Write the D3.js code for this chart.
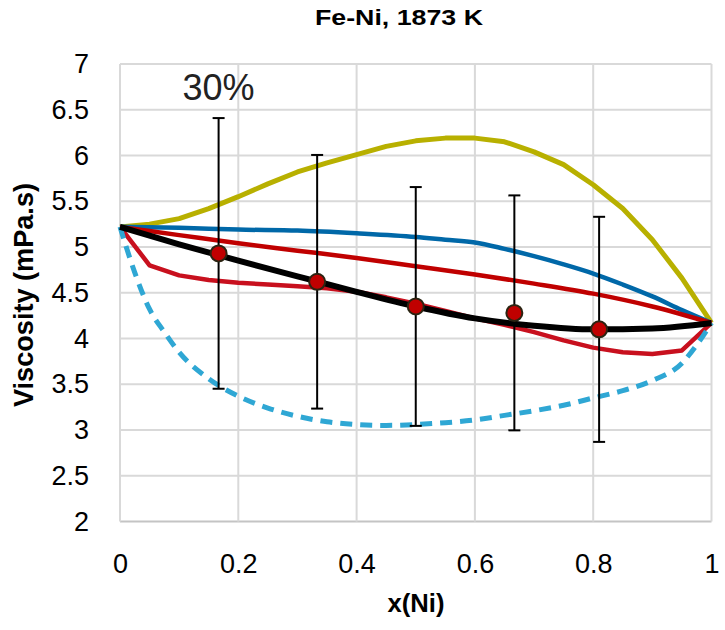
<!DOCTYPE html>
<html><head><meta charset="utf-8">
<script src="https://cdn.jsdelivr.net/npm/d3@7"></script>
<style>body{margin:0;background:#fff}svg{display:block}</style>
</head><body>
<script>
const xTicks = [0, 0.2, 0.4, 0.6, 0.8, 1];
const yTicks = [2, 2.5, 3, 3.5, 4, 4.5, 5, 5.5, 6, 6.5, 7];
const xYellow = [0,0.05,0.1,0.15,0.2,0.25,0.3,0.35,0.4,0.45,0.5,0.55,0.6,0.65,0.7,0.75,0.8,0.85,0.9,0.95,1];
const yYellow = [5.22,5.25,5.31,5.42,5.55,5.69,5.82,5.92,6.01,6.10,6.16,6.19,6.19,6.15,6.04,5.90,5.68,5.42,5.08,4.66,4.17];
const xBlue = [0,0.1,0.2,0.3,0.4,0.5,0.55,0.6,0.65,0.7,0.75,0.8,0.85,0.9,0.95,1];
const yBlue = [5.22,5.21,5.19,5.18,5.15,5.11,5.08,5.05,4.98,4.90,4.81,4.71,4.59,4.46,4.31,4.17];
const xRed1 = [0,0.1,0.2,0.3,0.4,0.5,0.6,0.7,0.8,0.9,1];
const yRed1 = [5.22,5.13,5.04,4.96,4.88,4.79,4.70,4.60,4.49,4.35,4.17];
const xRed2 = [0,0.05,0.1,0.15,0.2,0.25,0.3,0.35,0.4,0.45,0.5,0.55,0.6,0.65,0.7,0.75,0.8,0.85,0.9,0.95,1];
const yRed2 = [5.22,4.80,4.69,4.64,4.61,4.59,4.57,4.55,4.51,4.45,4.38,4.30,4.22,4.15,4.07,3.98,3.90,3.85,3.83,3.87,4.17];
const xBlack = [0,0.1,0.2,0.3,0.4,0.5,0.6,0.7,0.8,0.9,1];
const yBlack = [5.22,5.03,4.85,4.68,4.51,4.35,4.22,4.14,4.10,4.11,4.17];
const xCyan = [0,0.025,0.05,0.075,0.1,0.15,0.2,0.25,0.3,0.35,0.4,0.45,0.5,0.55,0.6,0.65,0.7,0.75,0.8,0.85,0.9,0.95,0.975,1];
const yCyan = [5.22,4.72,4.32,4.07,3.85,3.56,3.37,3.24,3.15,3.09,3.06,3.05,3.06,3.08,3.11,3.16,3.21,3.27,3.35,3.43,3.54,3.73,3.93,4.17];
const xExp = [0.1667,0.3333,0.5,0.6667,0.81];
const yExp = [4.93,4.62,4.35,4.28,4.10];
const errFrac = 0.30;

const W = 725, H = 630;
const svg = d3.select("body").append("svg").attr("width", W).attr("height", H);
const x = d3.scaleLinear().domain([0,1]).range([120, 711.5]);
const y = d3.scaleLinear().domain([2,7]).range([521.5, 64]);
const font = "'Liberation Sans', Arial, sans-serif";

// grid
svg.append("g").selectAll("line").data(yTicks).join("line")
  .attr("x1", x(0)).attr("x2", x(1)).attr("y1", d=>y(d)).attr("y2", d=>y(d))
  .attr("stroke", d => d===2 ? "#c4c4c4" : "#d9d9d9").attr("stroke-width", 2);
svg.append("g").selectAll("line").data(xTicks).join("line")
  .attr("x1", d=>x(d)).attr("x2", d=>x(d)).attr("y1", y(7)).attr("y2", y(2))
  .attr("stroke", "#d9d9d9").attr("stroke-width", 2);

// axes (tick labels via d3 axes)
const yAxis = svg.append("g").attr("transform", `translate(${x(0)},0)`)
  .call(d3.axisLeft(y).tickValues(yTicks).tickSize(0).tickPadding(31).tickFormat(d3.format("")));
const xAxis = svg.append("g").attr("transform", `translate(0,${y(2)})`)
  .call(d3.axisBottom(x).tickValues(xTicks).tickSize(0).tickPadding(32).tickFormat(d3.format("")));
[yAxis, xAxis].forEach(a => {
  a.select(".domain").remove();
  a.selectAll("text").attr("font-family", font).attr("font-size", 27).attr("fill", "#000");
});

const line = (xs, ys, curve) => d3.line().curve(curve || d3.curveLinear)
  .x((d,i)=>x(xs[i])).y((d,i)=>y(ys[i]))(ys);

svg.append("path").attr("d", line(xYellow, yYellow)).attr("fill","none").attr("stroke","#b8b000").attr("stroke-width",5).attr("stroke-linejoin","round");
svg.append("path").attr("d", line(xBlue, yBlue, d3.curveMonotoneX)).attr("fill","none").attr("stroke","#0068a8").attr("stroke-width",4.5);
svg.append("path").attr("d", line(xRed1, yRed1, d3.curveMonotoneX)).attr("fill","none").attr("stroke","#c00000").attr("stroke-width",4.5);
svg.append("path").attr("d", line(xRed2, yRed2)).attr("fill","none").attr("stroke","#c8101e").attr("stroke-width",4.5).attr("stroke-linejoin","round");
svg.append("path").attr("d", line(xCyan, yCyan, d3.curveMonotoneX)).attr("fill","none").attr("stroke","#2fa7d4")
  .attr("stroke-width",5).attr("stroke-dasharray","12,8");
svg.append("path").attr("d", line(xBlack, yBlack, d3.curveMonotoneX)).attr("fill","none").attr("stroke","#000").attr("stroke-width",6);

// error bars
const eb = svg.append("g").attr("stroke","#000").attr("stroke-width",2);
xExp.forEach((xv,i) => {
  const hi = yExp[i]*(1+errFrac), lo = yExp[i]*(1-errFrac);
  eb.append("line").attr("x1",x(xv)).attr("x2",x(xv)).attr("y1",y(hi)).attr("y2",y(lo));
  eb.append("line").attr("x1",x(xv)-6).attr("x2",x(xv)+6).attr("y1",y(hi)).attr("y2",y(hi));
  eb.append("line").attr("x1",x(xv)-6).attr("x2",x(xv)+6).attr("y1",y(lo)).attr("y2",y(lo));
});
svg.append("g").selectAll("circle").data(yExp).join("circle")
  .attr("cx",(d,i)=>x(xExp[i])).attr("cy",d=>y(d)).attr("r",8)
  .attr("fill","#c00000").attr("stroke","#2b2412").attr("stroke-width",2);

// texts
svg.append("text").attr("x", 399).attr("y", 25).attr("text-anchor","middle")
  .attr("font-family", font).attr("font-weight","bold").attr("font-size",22)
  .attr("textLength",168).attr("lengthAdjust","spacingAndGlyphs").text("Fe-Ni, 1873 K");
svg.append("text").attr("x", 218.5).attr("y", 100).attr("text-anchor","middle")
  .attr("font-family", font).attr("font-size",36).attr("fill","#222").text("30%");
svg.append("text").attr("x", 416).attr("y", 612).attr("text-anchor","middle")
  .attr("font-family", font).attr("font-weight","bold").attr("font-size",25)
  .attr("textLength",57).attr("lengthAdjust","spacingAndGlyphs").text("x(Ni)");
svg.append("text").attr("transform","translate(33,295) rotate(-90)").attr("text-anchor","middle")
  .attr("font-family", font).attr("font-weight","bold").attr("font-size",27)
  .attr("textLength",224).attr("lengthAdjust","spacingAndGlyphs").text("Viscosity (mPa.s)");
</script>
</body></html>
